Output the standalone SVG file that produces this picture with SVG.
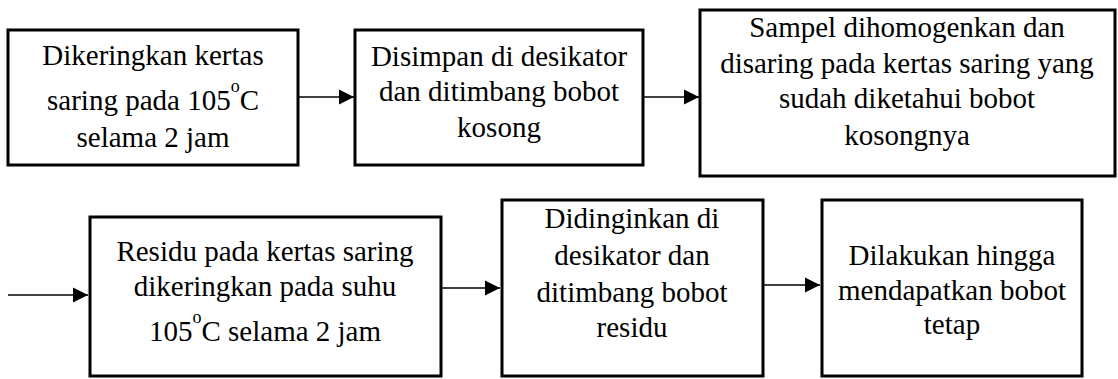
<svg xmlns="http://www.w3.org/2000/svg" width="1118" height="379" viewBox="0 0 1118 379">
  <style>
    .box rect { fill: #fff; stroke: #000; stroke-width: 3; }
    .box text { font-family: "Liberation Serif", "Times New Roman", serif; font-size: 29px; fill: #000; text-anchor: middle; }
    .sup { font-size: 18px; }
    .conn line { stroke: #000; stroke-width: 1.4; marker-end: url(#arrow); }
  </style>
  <defs>
    <marker id="arrow" markerUnits="userSpaceOnUse" markerWidth="16" markerHeight="16" refX="15" refY="8" orient="auto">
      <path d="M0,0.5 L15,8 L0,15.5 Z" fill="#000"/>
    </marker>
  </defs>
  <rect width="1118" height="379" fill="#fff"/>

  <!-- connectors -->
  <g id="connectors" class="conn">
    <line x1="298" y1="97" x2="354" y2="97"/>
    <line x1="643" y1="97" x2="699" y2="97"/>
    <line x1="8" y1="295" x2="88" y2="295"/>
    <line x1="441" y1="288" x2="500" y2="288"/>
    <line x1="763" y1="285" x2="820" y2="285"/>
  </g>

  <!-- step 1 -->
  <g id="step1" class="box">
    <rect x="8" y="30" width="290" height="135"/>
    <text x="153" y="65">Dikeringkan kertas</text>
    <text x="153" y="110">saring pada 105<tspan class="sup" dy="-18">o</tspan><tspan dy="18">C</tspan></text>
    <text x="153" y="147">selama 2 jam</text>
  </g>

  <!-- step 2 -->
  <g id="step2" class="box">
    <rect x="355" y="30" width="288" height="135"/>
    <text x="499" y="66">Disimpan di desikator</text>
    <text x="499" y="101">dan ditimbang bobot</text>
    <text x="499" y="137">kosong</text>
  </g>

  <!-- step 3 -->
  <g id="step3" class="box">
    <rect x="700" y="10" width="415" height="166"/>
    <text x="907" y="37">Sampel dihomogenkan dan</text>
    <text x="907" y="73">disaring pada kertas saring yang</text>
    <text x="907" y="108">sudah diketahui bobot</text>
    <text x="907" y="145">kosongnya</text>
  </g>

  <!-- step 4 -->
  <g id="step4" class="box">
    <rect x="90" y="217" width="351" height="159"/>
    <text x="265" y="261">Residu pada kertas saring</text>
    <text x="265" y="296">dikeringkan pada suhu</text>
    <text x="265" y="341">105<tspan class="sup" dy="-18">o</tspan><tspan dy="18">C selama 2 jam</tspan></text>
  </g>

  <!-- step 5 -->
  <g id="step5" class="box">
    <rect x="502" y="200" width="261" height="176"/>
    <text x="632" y="228">Didinginkan di</text>
    <text x="632" y="265">desikator dan</text>
    <text x="632" y="302">ditimbang bobot</text>
    <text x="632" y="337">residu</text>
  </g>

  <!-- step 6 -->
  <g id="step6" class="box">
    <rect x="822" y="200" width="260" height="176"/>
    <text x="952" y="265">Dilakukan hingga</text>
    <text x="952" y="300">mendapatkan bobot</text>
    <text x="952" y="334">tetap</text>
  </g>
</svg>
